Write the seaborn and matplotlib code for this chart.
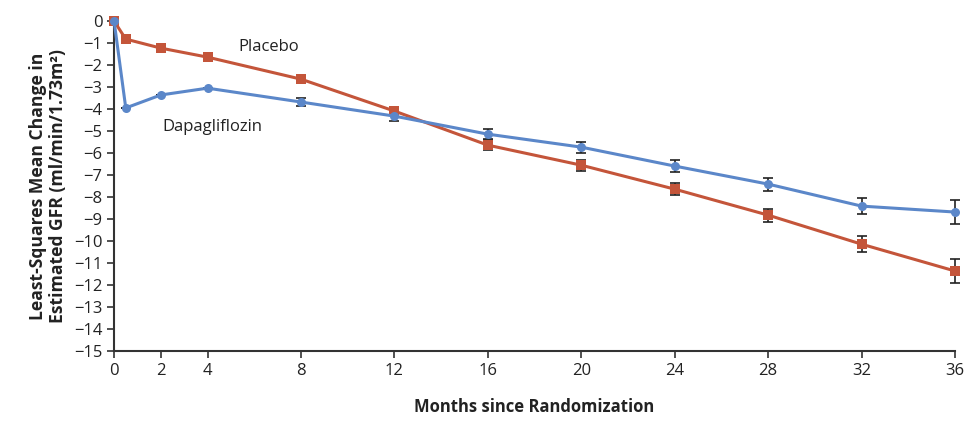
import matplotlib
matplotlib.use("Agg")
import matplotlib.pyplot as plt
import seaborn as sns
import pandas as pd
import numpy as np

months = [0, 0.5, 2, 4, 8, 12, 16, 20, 24, 28, 32, 36]
placebo = [0, -0.82, -1.23, -1.64, -2.64, -4.09, -5.64, -6.55, -7.64, -8.82, -10.14, -11.36]
placebo_err = [0, 0, 0, 0, 0.18, 0.2, 0.22, 0.25, 0.27, 0.3, 0.36, 0.55]
dapa = [0, -3.95, -3.36, -3.05, -3.68, -4.32, -5.14, -5.73, -6.59, -7.41, -8.41, -8.68]
dapa_err = [0, 0, 0, 0, 0.18, 0.2, 0.22, 0.25, 0.27, 0.3, 0.36, 0.55]
x_ticks = [0, 2, 4, 8, 12, 16, 20, 24, 28, 32, 36]
y_ticks = list(range(0, -16, -1))

sns.set_theme(style="ticks")
plt.rcParams['font.family'] = ['Open Sans', 'DejaVu Sans']

df = pd.DataFrame({
    "month": months * 2,
    "value": placebo + dapa,
    "err": placebo_err + dapa_err,
    "group": ["Placebo"] * len(months) + ["Dapagliflozin"] * len(months),
})

palette = {"Placebo": "#C4553A", "Dapagliflozin": "#5B87C9"}
markers = {"Placebo": "s", "Dapagliflozin": "o"}

fig = plt.figure(figsize=(9.75, 4.21), dpi=100)
ax = fig.add_axes([0.117, 0.166, 0.8625, 0.784])

for g in ["Placebo", "Dapagliflozin"]:
    sub = df[df.group == g]
    ax.errorbar(sub.month, sub.value, yerr=sub.err, fmt="none", ecolor="#222222",
                elinewidth=1.2, capsize=3.5, capthick=1.2, zorder=2, clip_on=False)

sns.lineplot(data=df, x="month", y="value", hue="group", style="group",
             markers=markers, dashes=False, palette=palette, linewidth=2.2,
             markersize=6.5, markeredgewidth=0, ax=ax, legend=False, zorder=3,
             clip_on=False)

ax.set_xlim(0, 36)
ax.set_ylim(-15, 0)
ax.set_xticks(x_ticks)
ax.set_xticklabels([str(t) for t in x_ticks])
ax.set_yticks(y_ticks)
ax.set_yticklabels([("0" if t == 0 else "\u2212" + str(-t)) for t in y_ticks])
ax.tick_params(axis="both", labelsize=12, colors="#333333", length=5, width=1.2,
               labelcolor="#222222")
for s in ["top", "right"]:
    ax.spines[s].set_visible(False)
for s in ["left", "bottom"]:
    ax.spines[s].set_linewidth(1.5)
    ax.spines[s].set_color("#333333")

ax.set_xlabel("Months since Randomization", fontsize=12, fontweight="bold",
              color="#222222", labelpad=14)
ax.set_ylabel("Least-Squares Mean Change in\nEstimated GFR (ml/min/1.73m\u00b2)",
              fontsize=12.6, fontweight="bold", color="#222222", labelpad=5,
              linespacing=1.15)

ax.text(5.3, -1.2, "Placebo", fontsize=12, color="#222222", va="center", ha="left")
ax.text(2.05, -4.8, "Dapagliflozin", fontsize=12, color="#222222", va="center", ha="left")

fig.savefig("out.png", dpi=100, facecolor="white")
